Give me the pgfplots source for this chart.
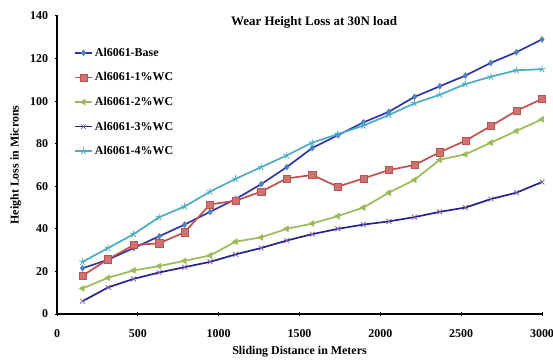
\documentclass[border=0pt]{standalone}
\usepackage{pgfplots}
\pgfplotsset{compat=1.18}
\usepackage{fontspec}
\setmainfont{Liberation Serif}

\definecolor{baseLine}{HTML}{2E35A8}
\definecolor{baseMark}{HTML}{4F81BD}
\definecolor{wcOne}{HTML}{C0504D}
\definecolor{wcTwo}{HTML}{9BBB59}
\definecolor{wcThreeLine}{HTML}{24238F}
\definecolor{wcThreeMark}{HTML}{8064A2}
\definecolor{wcFour}{HTML}{4BACC6}

\begin{document}
\begin{tikzpicture}
\begin{axis}[
  name=ax,
  scale only axis,
  width=485bp, height=298bp,
  xmin=0, xmax=3000, ymin=0, ymax=140,
  xtick={0,500,...,3000}, ytick={0,20,...,140},
  axis x line*=bottom, axis y line*=left,
  axis line style={line width=2.2pt, -},
  tick style={black, line width=1pt},
  major tick length=3bp,
  tick align=center,
  font=\bfseries\fontsize{12}{13}\selectfont,
  /pgf/number format/assume math mode=true,
  /pgf/number format/set thousands separator={},
  xticklabel style={yshift=-11bp},
  yticklabel style={xshift=-4bp},
  xlabel={Sliding Distance in Meters},
  ylabel={Height Loss in Microns},
  xlabel style={font=\bfseries\fontsize{12}{13}\selectfont, yshift=-1bp},
  ylabel style={font=\bfseries\fontsize{12}{13}\selectfont, yshift=2bp},
  title={Wear Height Loss at 30N load},
  title style={at={(0.53,0.96)}, anchor=center, font=\bfseries\fontsize{13}{15}\selectfont},
  legend style={at={(0.035,0.9)}, anchor=north west, draw=none, fill=none,
    font=\bfseries\fontsize{12}{13}\selectfont, row sep=10.8bp, inner sep=0pt},
  legend cell align=left,
  every axis plot/.append style={line width=1.7pt},
]
\addplot[baseLine, mark=diamond*, mark size=3pt, mark options={fill=baseMark, draw=baseMark, line width=0.5pt}] coordinates {
  (158,21.5) (316,25.5) (474,31) (632,36.5) (789,42) (947,48) (1105,54) (1263,61)
  (1421,69) (1579,78) (1737,84) (1895,90) (2053,95) (2211,102) (2368,107)
  (2526,112) (2684,118) (2842,123) (3000,129)};
\addlegendentry{Al6061-Base}
\addplot[wcOne, mark=square*, mark size=3.6pt, mark options={fill=wcOne!80!white, draw=wcOne, line width=0.5pt}] coordinates {
  (158,18) (316,25.7) (474,32.4) (632,33.2) (789,38.4) (947,51.5) (1105,53.2) (1263,57.5)
  (1421,63.7) (1579,65.3) (1737,59.8) (1895,63.7) (2053,67.6) (2211,70) (2368,76)
  (2526,81.4) (2684,88.3) (2842,95.5) (3000,101)};
\addlegendentry{Al6061-1\%WC}
\addplot[wcTwo, mark=triangle*, mark size=3.4pt, mark options={fill=wcTwo, draw=wcTwo, line width=0.5pt, rotate=90}] coordinates {
  (158,12) (316,17) (474,20.5) (632,22.5) (789,25) (947,27.5) (1105,34) (1263,36)
  (1421,40) (1579,42.5) (1737,46) (1895,50) (2053,57) (2211,63) (2368,72.5)
  (2526,75) (2684,80.5) (2842,86) (3000,91.5)};
\addlegendentry{Al6061-2\%WC}
\addplot[wcThreeLine, mark=x, mark size=3.4pt, mark options={draw=wcThreeMark, line width=0.8pt}] coordinates {
  (158,6) (316,12.5) (474,16.5) (632,19.5) (789,22) (947,24.5) (1105,28) (1263,31)
  (1421,34.5) (1579,37.5) (1737,40) (1895,42) (2053,43.5) (2211,45.5) (2368,48)
  (2526,50) (2684,54) (2842,57) (3000,62)};
\addlegendentry{Al6061-3\%WC}
\addplot[wcFour, mark=star, mark size=3.6pt, mark options={draw=wcFour, line width=0.8pt}] coordinates {
  (158,24.5) (316,31) (474,37.5) (632,45.5) (789,50.5) (947,57.5) (1105,63.5) (1263,69)
  (1421,74.5) (1579,80.5) (1737,84.5) (1895,88.5) (2053,93.5) (2211,99) (2368,103)
  (2526,108) (2684,111.5) (2842,114.5) (3000,115)};
\addlegendentry{Al6061-4\%WC}
\end{axis}
\pgfresetboundingbox
\path ([shift={(-57bp,-50bp)}]ax.south west) rectangle ([shift={(496bp,314bp)}]ax.south west);
\end{tikzpicture}
\end{document}
